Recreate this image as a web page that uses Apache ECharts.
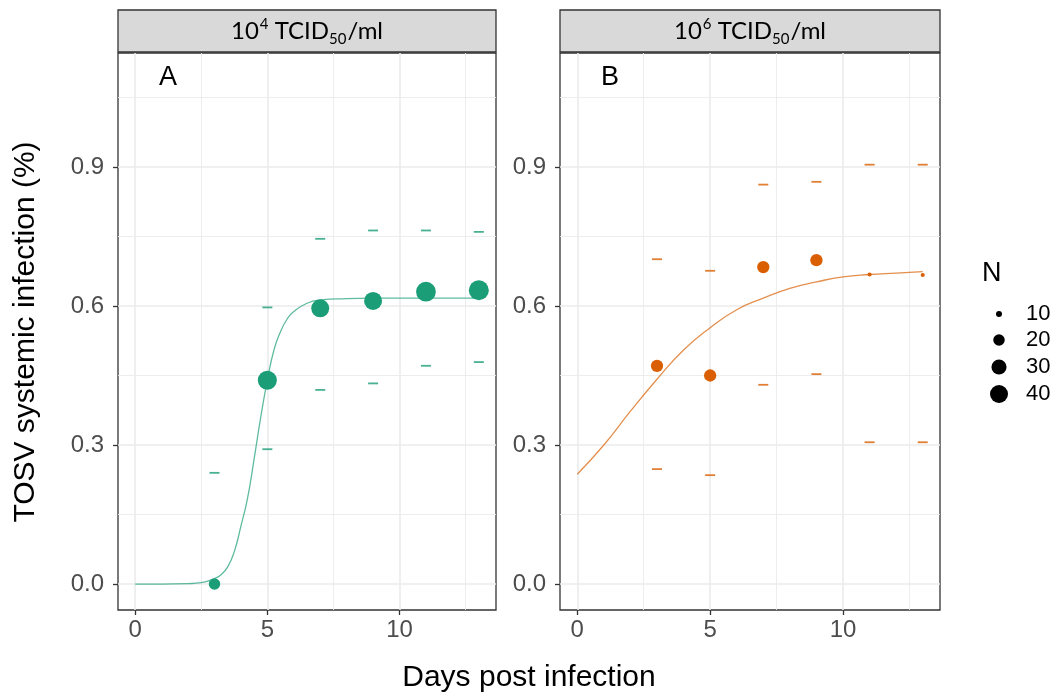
<!DOCTYPE html>
<html>
<head>
<meta charset="utf-8">
<script src="https://cdn.jsdelivr.net/npm/echarts@6/dist/echarts.min.js"></script>
<style>
  html, body { margin: 0; padding: 0; background: #fff; }
  #chart { width: 1057px; height: 697px; }
</style>
</head>
<body>
<div id="chart"></div>
<script>
// days sampled
var days = [3, 5, 7, 9, 11, 13];

// panel A : 10^4 TCID50/ml
var lowMean  = [0.000, 0.440, 0.595, 0.611, 0.631, 0.634];
var lowUpper = [0.240, 0.597, 0.745, 0.763, 0.763, 0.760];
var lowLower = [0.000, 0.291, 0.419, 0.433, 0.471, 0.479];
var lowN     = [20, 44, 40, 40, 47, 48];
var lowFitX  = [0, 1, 2, 2.5, 3, 3.25, 3.5, 3.75, 4, 4.25, 4.5, 4.75, 5, 5.25, 5.5, 5.75, 6, 6.5, 7, 8, 9, 10, 11, 12, 13];
var lowFitY  = [0, 0, 0.001, 0.003, 0.012, 0.02, 0.037, 0.07, 0.125, 0.185, 0.27, 0.36, 0.44, 0.505, 0.545, 0.572, 0.588, 0.606, 0.613, 0.616, 0.617, 0.617, 0.617, 0.617, 0.617];

// panel B : 10^6 TCID50/ml
var highMean  = [0.471, 0.450, 0.684, 0.699, 0.668, 0.667];
var highUpper = [0.701, 0.676, 0.862, 0.868, 0.905, 0.905];
var highLower = [0.248, 0.235, 0.430, 0.453, 0.306, 0.306];
var highN     = [22, 22, 22, 22, 8, 8];
var highFitX  = [0, 1, 2, 3, 4, 5, 6, 7, 8, 9, 10, 11, 12, 13];
var highFitY  = [0.237, 0.300, 0.373, 0.442, 0.505, 0.553, 0.592, 0.617, 0.638, 0.652, 0.663, 0.668, 0.671, 0.674];

var xTicks = [0, 5, 10];
var xMinor = [2.5, 7.5, 12.5];
var yTicks = [0, 0.3, 0.6, 0.9];
var yMinor = [0.15, 0.45, 0.75, 1.05];
var legendN = [10, 20, 30, 40];

var green = '#1b9e77';
var orange = '#d95f02';

// ggplot-like area scale for N
function sizeOf(n) {
  return Math.sqrt(Math.max(9.6 * n - 60, 9));
}
function pairs(xs, ys) {
  return xs.map(function (x, i) { return [x, ys[i]]; });
}

var panels = [
  { left: 118, width: 378 },
  { left: 560, width: 380 }
];
var panelTop = 53, panelHeight = 557;

var grids = panels.map(function (p) {
  return { left: p.left, top: panelTop, width: p.width, height: panelHeight,
           show: true, borderColor: '#333333', borderWidth: 1.3, backgroundColor: 'transparent' };
});

var xAxes = [], yAxes = [];
panels.forEach(function (p, gi) {
  xAxes.push({
    type: 'value', gridIndex: gi, min: -0.65, max: 13.65,
    axisLine: { show: false, onZero: false },
    axisTick: { show: true, length: 5, customValues: xTicks, lineStyle: { color: '#333', width: 1.3 } },
    axisLabel: { customValues: xTicks, color: '#4d4d4d', fontSize: 24, fontFamily: 'Liberation Sans', margin: 8 },
    splitLine: { show: true, lineStyle: { color: '#ebebeb', width: 1.6 } }
  });
  xAxes.push({
    type: 'value', gridIndex: gi, min: -0.65, max: 13.65,
    axisLine: { show: false, onZero: false },
    axisTick: { show: false, customValues: xMinor },
    axisLabel: { show: false, customValues: xMinor },
    splitLine: { show: true, lineStyle: { color: '#ebebeb', width: 0.9 } }
  });
  yAxes.push({
    type: 'value', gridIndex: gi, min: -0.056, max: 1.146,
    axisLine: { show: false, onZero: false },
    axisTick: { show: true, length: 5, customValues: yTicks, lineStyle: { color: '#333', width: 1.3 } },
    axisLabel: { customValues: yTicks, color: '#4d4d4d', fontSize: 24, fontFamily: 'Liberation Sans', margin: 14,
                 formatter: function (v) { return v.toFixed(1); } },
    splitLine: { show: true, lineStyle: { color: '#ebebeb', width: 1.6 } }
  });
  yAxes.push({
    type: 'value', gridIndex: gi, min: -0.056, max: 1.146,
    axisLine: { show: false, onZero: false },
    axisTick: { show: false, customValues: yMinor },
    axisLabel: { show: false, customValues: yMinor },
    splitLine: { show: true, lineStyle: { color: '#ebebeb', width: 0.9 } }
  });
});

function panelSeries(ai, color, fitX, fitY, mean, upper, lower, n) {
  return [
    {
      type: 'line', xAxisIndex: ai, yAxisIndex: ai, data: pairs(fitX, fitY),
      showSymbol: false, smooth: 0.5, silent: true,
      lineStyle: { color: color, width: 1.3, opacity: 0.7 }, z: 2
    },
    {
      type: 'scatter', xAxisIndex: ai, yAxisIndex: ai,
      data: pairs(days, upper).concat(pairs(days, lower)),
      symbol: 'rect', symbolSize: [10, 1.8],
      itemStyle: { color: color, opacity: 0.8 }, z: 3
    },
    {
      type: 'scatter', xAxisIndex: ai, yAxisIndex: ai,
      data: days.map(function (d, i) { return [d, mean[i], n[i]]; }),
      symbolSize: function (v) { return sizeOf(v[2]); },
      itemStyle: { color: color, opacity: 1 }, z: 4
    }
  ];
}

var series = panelSeries(0, green, lowFitX, lowFitY, lowMean, lowUpper, lowLower, lowN)
  .concat(panelSeries(2, orange, highFitX, highFitY, highMean, highUpper, highLower, highN));

var stripRich = {
  b: { fontSize: 24, fontFamily: 'Lato', color: '#1a1a1a', lineHeight: 32, verticalAlign: 'middle' },
  sup: { fontSize: 15, fontFamily: 'Lato', color: '#1a1a1a', lineHeight: 32, verticalAlign: 'top', padding: [2, 0, 0, 1] },
  sub: { fontSize: 15, fontFamily: 'Lato', color: '#1a1a1a', lineHeight: 32, verticalAlign: 'bottom', padding: [0, 1, 0, 0] }
};
var stripTexts = ['{b|10}{sup|4}{b| TCID}{sub|50}{b|/ml}', '{b|10}{sup|6}{b| TCID}{sub|50}{b|/ml}'];
var panelTags = ['A', 'B'];

var graphics = [];
panels.forEach(function (p, i) {
  graphics.push({
    type: 'rect', shape: { x: p.left, y: 10, width: p.width, height: 42 },
    style: { fill: '#d9d9d9', stroke: '#333333', lineWidth: 1.3 }
  });
  graphics.push({
    type: 'text', x: p.left + p.width / 2, y: 31,
    style: { text: stripTexts[i], rich: stripRich, align: 'center', verticalAlign: 'middle' }
  });
  graphics.push({
    type: 'text', x: p.left + 50, y: 78,
    style: { text: panelTags[i], fontSize: 27, fontFamily: 'Liberation Sans', fill: '#000',
             align: 'center', verticalAlign: 'middle' }
  });
});

// axis titles
graphics.push({
  type: 'text', x: 529, y: 678,
  style: { text: 'Days post infection', fontSize: 30, fontFamily: 'Liberation Sans', fill: '#000',
           align: 'center', verticalAlign: 'middle' }
});
graphics.push({
  type: 'text', x: 26, y: 332, rotation: Math.PI / 2,
  style: { text: 'TOSV systemic infection (%)', fontSize: 30, fontFamily: 'Liberation Sans', fill: '#000',
           align: 'center', verticalAlign: 'middle' }
});

// size legend
graphics.push({
  type: 'text', x: 982, y: 274,
  style: { text: 'N', fontSize: 27, fontFamily: 'Liberation Sans', fill: '#000', align: 'left', verticalAlign: 'middle' }
});
var legendY = [314, 340, 367, 394];
legendN.forEach(function (n, i) {
  graphics.push({
    type: 'circle', shape: { cx: 999, cy: legendY[i], r: sizeOf(n) / 2 },
    style: { fill: '#000' }
  });
  graphics.push({
    type: 'text', x: 1026, y: legendY[i],
    style: { text: String(n), fontSize: 22, fontFamily: 'Liberation Sans', fill: '#000', align: 'left', verticalAlign: 'middle' }
  });
});

var myChart = echarts.init(document.getElementById('chart'), null, { renderer: 'canvas' });
myChart.setOption({
  animation: false,
  backgroundColor: '#ffffff',
  grid: grids,
  xAxis: xAxes,
  yAxis: yAxes,
  series: series,
  graphic: graphics
});
</script>
</body>
</html>
